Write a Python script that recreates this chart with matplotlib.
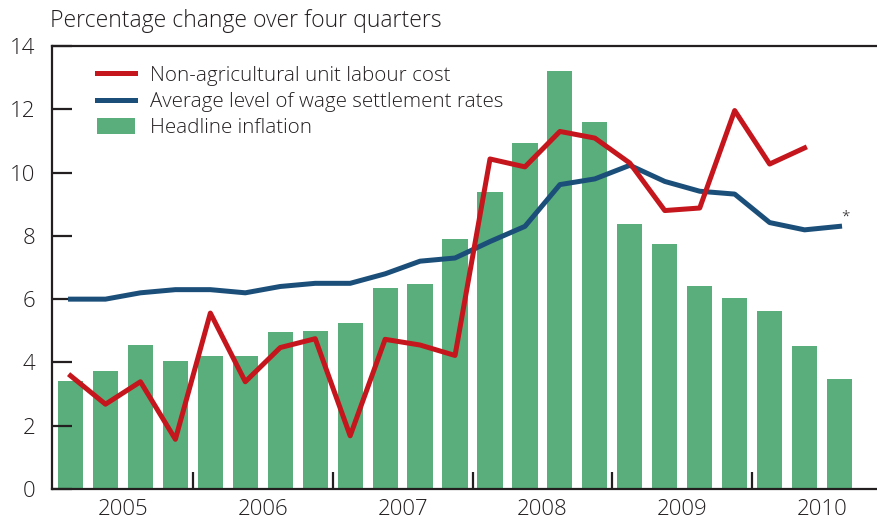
import matplotlib.pyplot as plt
import numpy as np

plt.rcParams['font.family'] = ['Open Sans', 'DejaVu Sans']
plt.rcParams['font.weight'] = 'light'

# quarterly data, 2005Q1 - 2010Q3
years = ['2005', '2006', '2007', '2008', '2009', '2010']
inflation = [3.41, 3.73, 4.55, 4.05, 4.2, 4.2, 4.96, 5.0, 5.25, 6.35, 6.48, 7.9,
             9.39, 10.94, 13.2, 11.6, 8.37, 7.74, 6.42, 6.04, 5.63, 4.52, 3.48]
labour_cost = [3.58, 2.68, 3.39, 1.57, 5.56, 3.39, 4.47, 4.75, 1.68, 4.73, 4.55, 4.22,
               10.43, 10.18, 11.3, 11.09, 10.3, 8.8, 8.88, 11.96, 10.27, 10.78]
wage_rates = [6.0, 6.0, 6.2, 6.3, 6.3, 6.2, 6.4, 6.5, 6.5, 6.8, 7.2, 7.3,
              7.82, 8.3, 9.62, 9.8, 10.23, 9.72, 9.41, 9.32, 8.42, 8.19, 8.3]

ink = '#231f20'
red = '#c4161c'
blue = '#1b4f7a'
green = '#5aae7c'

fig = plt.figure(figsize=(8.78, 5.22), dpi=100)
ax = fig.add_axes([52 / 878, 1 - 489 / 522, 1 - 52 / 878, (489 - 46) / 522])

x = np.arange(len(inflation))
ax.bar(x, inflation, width=0.72, color=green, label='Headline inflation', zorder=1)
ax.plot(np.arange(len(labour_cost)), labour_cost, color=red, lw=3.6,
        label='Non-agricultural unit labour cost', zorder=3)
ax.plot(np.arange(len(wage_rates)), wage_rates, color=blue, lw=3.6,
        label='Average level of wage settlement rates', zorder=2)
ax.text(len(wage_rates) - 1 + 0.05, wage_rates[-1] + 0.05, '*', fontsize=11,
        color=ink, ha='left', va='bottom')

ax.set_xlim(-0.53, 23.1)
ax.set_ylim(0, 14)

ax.spines['right'].set_visible(False)
for s in ['left', 'top', 'bottom']:
    ax.spines[s].set_color(ink)
    ax.spines[s].set_linewidth(1.6)

ax.set_yticks(range(0, 15, 2))
ax.tick_params(axis='y', direction='in', length=14.5, width=1.6, color=ink,
               labelsize=16, labelcolor=ink, pad=12)

ax.set_xticks(np.arange(3.5, 20, 4))
ax.set_xticklabels([])
ax.set_xticks(np.arange(1.5, 22, 4), minor=True)
ax.set_xticklabels(years, minor=True)
ax.tick_params(axis='x', which='major', direction='in', length=12, width=1.6, color=ink)
ax.tick_params(axis='x', which='minor', length=0, labelsize=16, labelcolor=ink, pad=7.5)

handles, labels = ax.get_legend_handles_labels()
ax.legend(handles, labels, frameon=False,
          loc='upper left', bbox_to_anchor=(0.0545, 0.955), fontsize=14.8,
          handlelength=1.85, handleheight=0.78, labelspacing=0.3, handletextpad=0.72,
          labelcolor=ink, borderaxespad=0, borderpad=0)

fig.text(50 / 878, 1 - 21 / 522, 'Percentage change over four quarters', fontsize=16.6,
         color=ink, ha='left', va='center')

fig.savefig('out.png', dpi=100)
